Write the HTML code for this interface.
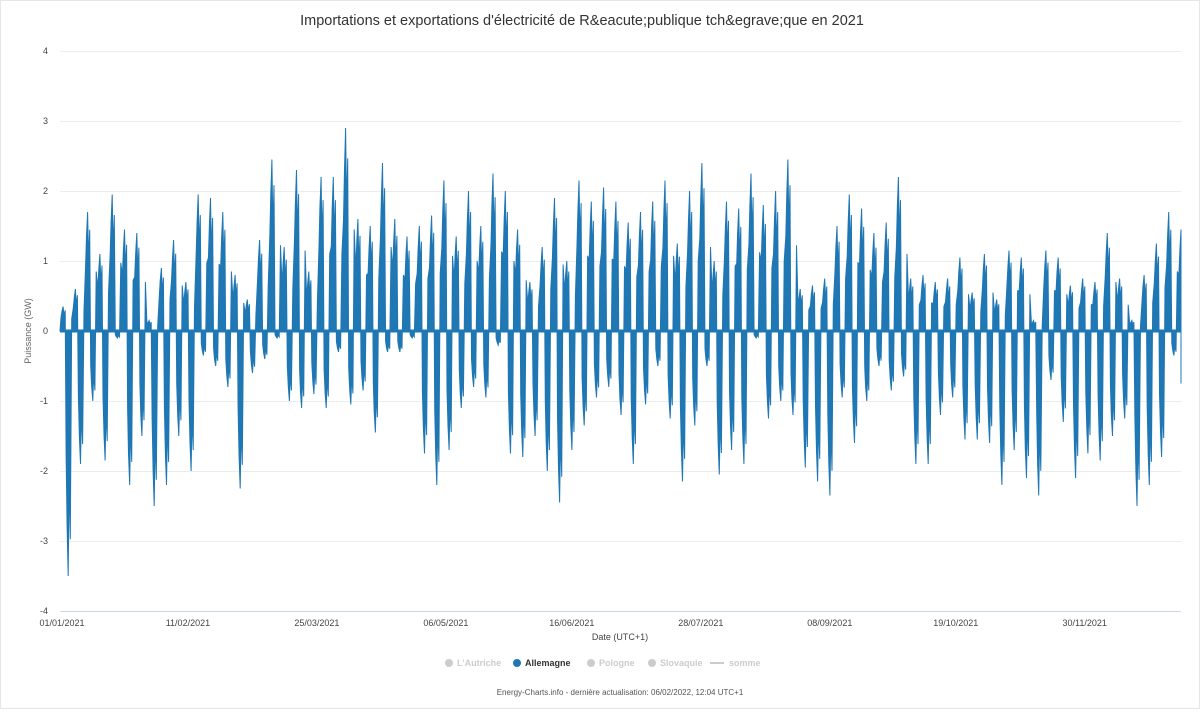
<!DOCTYPE html>
<html><head><meta charset="utf-8">
<style>
body{margin:0;background:#fff;font-family:"Liberation Sans",sans-serif;}
svg text{font-family:"Liberation Sans",sans-serif;}
</style></head>
<body>
<svg width="1200" height="709">
<rect x="0.5" y="0.5" width="1199" height="708" fill="#fff" stroke="#e6e6e6"/>
<text x="582" y="25" text-anchor="middle" font-size="14.5" fill="#333">Importations et exportations d'électricité de R&amp;eacute;publique tch&amp;egrave;que en 2021</text>
<g id="grid"></g>
<g id="yticks"></g>
<text transform="translate(31,331) rotate(-90)" text-anchor="middle" font-size="9" fill="#666">Puissance (GW)</text>
<g id="series"></g>
<line x1="60" y1="611.5" x2="1181" y2="611.5" stroke="#ccd6eb"/>
<g id="xticks"></g>
<text x="620" y="640" text-anchor="middle" font-size="9" fill="#444">Date (UTC+1)</text>
<g font-size="9" font-weight="bold">
 <g><circle cx="449" cy="663" r="4" fill="#ccc"/><text x="457" y="666" fill="#ccc">L'Autriche</text></g>
 <g><circle cx="517" cy="663" r="4" fill="#1f77b4"/><text x="525" y="666" fill="#333">Allemagne</text></g>
 <g><circle cx="591" cy="663" r="4" fill="#ccc"/><text x="599" y="666" fill="#ccc">Pologne</text></g>
 <g><circle cx="652" cy="663" r="4" fill="#ccc"/><text x="660" y="666" fill="#ccc">Slovaquie</text></g>
 <g><line x1="710" y1="663" x2="724" y2="663" stroke="#ccc" stroke-width="2"/><text x="729" y="666" fill="#ccc">somme</text></g>
</g>
<text x="620" y="695" text-anchor="middle" font-size="8" fill="#555">Energy-Charts.info - dernière actualisation: 06/02/2022, 12:04 UTC+1</text>
</svg>
<script>
const binDays = 4;
const binMax = [0.35,0.6,1.7,1.1,1.95,1.45,1.4,0.15,0.9,1.3,0.7,1.95,1.9,1.7,0.8,0.45,1.3,2.45,1.2,2.3,0.85,2.2,2.2,
2.9,1.6,1.5,2.4,1.6,1.35,1.5,1.65,2.15,1.35,2.0,1.5,2.25,2.0,1.45,0.7,1.2,1.9,1.0,2.15,1.85,2.05,1.85,
1.55,1.7,1.85,2.15,1.25,2.0,2.4,1.0,1.85,1.75,2.25,1.8,2.0,2.45,0.6,0.65,0.75,1.5,1.95,1.75,1.4,1.55,2.2,
0.75,0.8,0.7,0.75,1.05,0.55,1.1,0.45,1.15,1.05,0.15,1.15,1.05,0.65,0.75,0.7,1.4,0.75,0.15,0.8,1.25,1.7,1.45];
const binMin = [-3.5,-1.9,-1.0,-1.85,-0.1,-2.2,-1.5,-2.5,-2.2,-1.5,-2.0,-0.35,-0.5,-0.8,-2.25,-0.6,-0.4,-0.1,-1.0,-1.1,-0.9,-1.1,-0.3,
-1.05,-0.85,-1.45,-0.3,-0.3,-0.1,-1.75,-2.2,-1.7,-1.1,-0.8,-0.95,-0.2,-1.75,-1.8,-1.5,-2.0,-2.45,-1.7,-1.35,-0.95,-0.8,-1.2,
-1.9,-1.05,-0.5,-1.25,-2.15,-1.35,-0.5,-2.05,-1.7,-1.9,-0.1,-1.25,-1.0,-1.2,-1.95,-2.15,-2.35,-0.95,-1.6,-1.0,-0.5,-0.85,-0.65,
-1.9,-1.9,-1.2,-0.95,-1.55,-1.55,-1.6,-2.2,-1.7,-2.1,-2.35,-0.7,-1.3,-2.1,-1.75,-1.85,-1.5,-1.25,-2.5,-2.2,-1.8,-0.35,-0.75];
const yTicks = [4,3,2,1,0,-1,-2,-3,-4];
const xTickDays = [0,41,83,125,166,208,250,291,333];
const xTickLabels = ["01/01/2021","11/02/2021","25/03/2021","06/05/2021","16/06/2021","28/07/2021","08/09/2021","19/10/2021","30/11/2021"];

const X0=60,X1=1181,Y0=51,Y1=611;
const xs=d=>X0+(X1-X0)*d/365;
const ys=v=>Y1-(v+4)/8*(Y1-Y0);
const NS="http://www.w3.org/2000/svg";
function mk(t,a){const e=document.createElementNS(NS,t);for(const k in a)e.setAttribute(k,a[k]);return e;}
const grid=document.getElementById('grid'),yt=document.getElementById('yticks');
yTicks.forEach(v=>{
 if(v!==-4){const l=mk('line',{x1:X0,x2:X1,y1:ys(v)+0.5,y2:ys(v)+0.5,stroke:'#ececec'});
 
 
 grid.appendChild(l);}
 const t=mk('text',{x:48,y:ys(v)+3,'text-anchor':'end','font-size':9,fill:'#444'});t.textContent=v;
 
 
 yt.appendChild(t);
});
const xt=document.getElementById('xticks');
xTickDays.forEach((d,i)=>{
 const t=mk('text',{x:xs(d)+2,y:626,'text-anchor':'middle','font-size':9,fill:'#444'});t.textContent=xTickLabels[i];
 
 
 xt.appendChild(t);
});
let pts=[[xs(0),ys(0)]];
binMax.forEach((mx,i)=>{
 const mn=binMin[i];
 const d0=i*binDays;
 const seq=[[0.08,mx*0.55],[0.16,mx*0.8],[0.25,mx],[0.33,mx*0.6],[0.42,mx*0.85],[0.5,mn*0.5],[0.58,mn*0.8],[0.67,mn],[0.75,mn*0.6],[0.84,mn*0.85],[0.95,mx*0.5]];
 seq.forEach(([f,v])=>{const d=Math.min(365,d0+f*binDays);pts.push([xs(d),ys(v)]);});
});
pts.push([X1,ys(0)]);
const dstr='M'+pts.map(p=>p[0].toFixed(1)+','+p[1].toFixed(1)).join('L');
const s=document.getElementById('series');
const area=mk('path',{d:dstr+'Z',fill:'#1f77b4',stroke:'#1f77b4','stroke-width':1,'stroke-linejoin':'miter'});


s.appendChild(area);
const band=mk('rect',{x:X0,y:ys(0)-1.5,width:X1-X0,height:3,fill:'#1f77b4'});


s.appendChild(band);
</script>
</body></html>
